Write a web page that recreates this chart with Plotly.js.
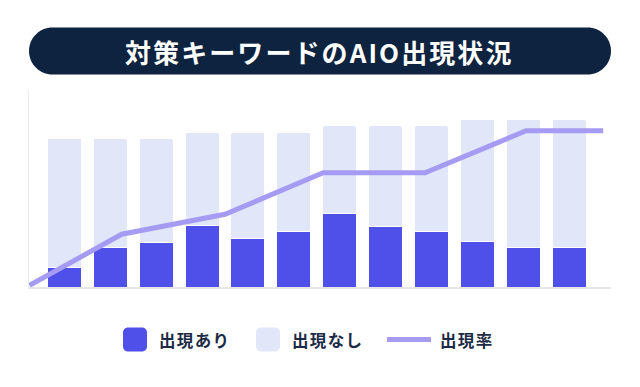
<!DOCTYPE html>
<html>
<head>
<meta charset="utf-8">
<script src="https://cdn.plot.ly/plotly-3.0.1.min.js"></script>
<style>
  html, body { margin: 0; padding: 0; background: #ffffff; }
  #chart { width: 640px; height: 387px; }
  text.annotation-text { letter-spacing: 0.08em; }
</style>
</head>
<body>
<div id="chart"></div>
<script>
// ---- data ----
const categories = [0, 1, 2, 3, 4, 5, 6, 7, 8, 9, 10, 11];
const appearYes = [3.1, 6.3, 7.1, 10, 7.9, 8.9, 11.8, 9.8, 8.9, 7.4, 6.3, 6.3];
const appearNo  = [20.9, 17.7, 16.9, 15, 17.1, 16.1, 14.2, 16.2, 17.1, 19.6, 20.7, 20.7];
const rateX = [-0.76, 1.25, 3.5, 5.64, 7.86, 10.06, 11.74];
const rateY = [0.8, 26.8, 36.9, 58.0, 58.0, 79.3, 79.3];
const titleText = '対策キーワードのAIO出現状況';
const legendLabels = ['出現あり', '出現なし', '出現率'];

// ---- styles ----
const DARK = '#4f4fea';
const LIGHT = '#e1e7f8';
const LINE = '#a59bf2';
const NAVY = '#0e2340';
const TEXT = '#1c2b45';
const FONT = '"Noto Sans CJK JP", "Noto Sans", sans-serif';

const W = 640, H = 387;
const M = { l: 29, r: 29, t: 90, b: 100 };
const PW = W - M.l - M.r, PH = H - M.t - M.b;
const px = x => (x - M.l) / PW;
const py = y => (H - M.b - y) / PH;
const P = (x, y) => px(x).toFixed(5) + ',' + py(y).toFixed(5);

function roundRect(x0, y0, x1, y1, r) {
  const k = 0.5523 * r;
  return 'M' + P(x0 + r, y0) +
    ' L' + P(x1 - r, y0) +
    ' C' + P(x1 - r + k, y0) + ' ' + P(x1, y0 + r - k) + ' ' + P(x1, y0 + r) +
    ' L' + P(x1, y1 - r) +
    ' C' + P(x1, y1 - r + k) + ' ' + P(x1 - r + k, y1) + ' ' + P(x1 - r, y1) +
    ' L' + P(x0 + r, y1) +
    ' C' + P(x0 + r - k, y1) + ' ' + P(x0, y1 - r + k) + ' ' + P(x0, y1 - r) +
    ' L' + P(x0, y0 + r) +
    ' C' + P(x0, y0 + r - k) + ' ' + P(x0 + r - k, y0) + ' ' + P(x0 + r, y0) + ' Z';
}

const traces = [
  {
    type: 'bar', x: categories, y: appearYes, name: legendLabels[0],
    marker: { color: DARK, line: { color: '#ffffff', width: 1 } },
    width: 0.74, hoverinfo: 'skip'
  },
  {
    type: 'bar', x: categories, y: appearNo, name: legendLabels[1],
    marker: { color: LIGHT, line: { color: '#ffffff', width: 1 } },
    width: 0.74, hoverinfo: 'skip'
  },
  {
    type: 'scatter', mode: 'lines', x: rateX, y: rateY, name: legendLabels[2],
    yaxis: 'y2', line: { color: LINE, width: 5 }, hoverinfo: 'skip'
  }
];

const shapes = [
  { type: 'path', xref: 'paper', yref: 'paper', path: roundRect(29, 27.5, 611, 74.5, 23.5),
    fillcolor: NAVY, line: { width: 0 }, layer: 'above' },
  { type: 'path', xref: 'paper', yref: 'paper', path: roundRect(123, 327.5, 147, 351.5, 5),
    fillcolor: DARK, line: { width: 0 } },
  { type: 'path', xref: 'paper', yref: 'paper', path: roundRect(256, 327.5, 280, 351.5, 5),
    fillcolor: LIGHT, line: { width: 0 } },
  { type: 'line', xref: 'paper', yref: 'paper', x0: px(387), x1: px(431), y0: py(339.5), y1: py(339.5),
    line: { color: LINE, width: 5 } }
];

const annotations = [
  { text: titleText, xref: 'paper', yref: 'paper', x: px(319), y: py(51.5),
    xanchor: 'center', yanchor: 'middle', showarrow: false,
    font: { family: FONT, size: 26, color: '#ffffff', weight: 700 } },
  { text: legendLabels[0], xref: 'paper', yref: 'paper', x: px(157), y: py(340),
    xanchor: 'left', yanchor: 'middle', showarrow: false,
    font: { family: FONT, size: 16.5, color: TEXT, weight: 700 } },
  { text: legendLabels[1], xref: 'paper', yref: 'paper', x: px(290), y: py(340),
    xanchor: 'left', yanchor: 'middle', showarrow: false,
    font: { family: FONT, size: 16.5, color: TEXT, weight: 700 } },
  { text: legendLabels[2], xref: 'paper', yref: 'paper', x: px(438), y: py(340),
    xanchor: 'left', yanchor: 'middle', showarrow: false,
    font: { family: FONT, size: 16.5, color: TEXT, weight: 700 } }
];

const layout = {
  width: W, height: H,
  margin: M,
  paper_bgcolor: '#ffffff', plot_bgcolor: '#ffffff',
  barmode: 'stack',
  barcornerradius: 2,
  showlegend: false,
  font: { family: FONT },
  xaxis: {
    type: 'linear', range: [-0.77, 11.91], showgrid: false, zeroline: false,
    showticklabels: false, ticks: '', showline: true, linecolor: '#e6e6e6', linewidth: 1.5, fixedrange: true
  },
  yaxis: {
    range: [0, PH / 6.2], showgrid: false, zeroline: false,
    showticklabels: false, ticks: '', showline: true, linecolor: '#ebebeb', linewidth: 1.5, fixedrange: true
  },
  yaxis2: {
    overlaying: 'y', range: [0, 100], showgrid: false, zeroline: false,
    showticklabels: false, ticks: '', showline: false, fixedrange: true
  },
  shapes: shapes,
  annotations: annotations
};

Plotly.newPlot('chart', traces, layout, { staticPlot: true, displayModeBar: false });
</script>
</body>
</html>
